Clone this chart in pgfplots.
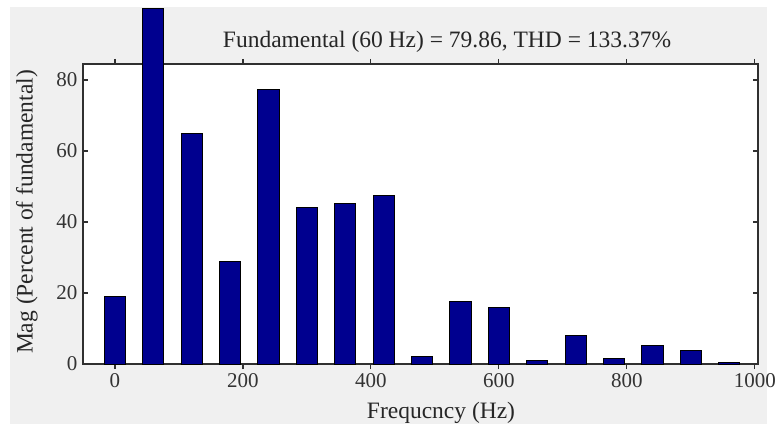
\documentclass[border=0pt]{standalone}
\usepackage{pgfplots}
\pgfplotsset{compat=1.18}
\usepackage{fontspec}
\setmainfont{Liberation Serif}
\definecolor{bg}{HTML}{F0F0F0}
\definecolor{barblue}{rgb}{0,0,0.5625}
\definecolor{axcol}{HTML}{303030}
\begin{document}
\begin{tikzpicture}
\fill[white] (0pt,0pt) rectangle (775pt,426pt);
\fill[bg] (10pt,2pt) rectangle (767pt,419pt);
\useasboundingbox (0pt,0pt) rectangle (775pt,426pt);
\begin{axis}[
  at={(83pt,62pt)}, anchor=south west,
  scale only axis, width=675pt, height=300pt,
  xmin=-50, xmax=1005, ymin=0, ymax=84.5,
  xtick={0,200,400,600,800,1000},
  ytick={0,20,40,60,80},
  tick align=inside, major tick length=5pt,
  axis line style={draw=axcol, line width=1.1pt},
  every tick/.style={draw=axcol, line width=1.1pt},
  axis background/.style={fill=white},
  ybar, bar width=33, clip=false,
  tick label style={font=\fontsize{21}{25}\selectfont, text=black!80},
  xticklabel style={yshift=-1pt},
  yticklabel style={xshift=-2pt},
  /pgf/number format/assume math mode=true,
  /pgf/number format/1000 sep={},
]
\addplot[fill=barblue, draw=black, line width=1pt] coordinates {
  (0,19.0) (60,100) (120,64.8) (180,29.0) (240,77.2) (300,44.1)
  (360,45.3) (420,47.6) (480,2.0) (540,17.7) (600,16.0) (660,1.0)
  (720,8.0) (780,1.5) (840,5.2) (900,3.9) (960,0.4)
};
\end{axis}
\node[font=\fontsize{23.5}{28}\selectfont, text=black!85] at (447pt,384pt) {Fundamental (60 Hz) = 79.86, THD = 133.37\%};
\node[font=\fontsize{23.5}{28}\selectfont, text=black!85] at (441pt,13pt) {Frequcncy (Hz)};
\node[font=\fontsize{23.5}{28}\selectfont, text=black!85, rotate=90] at (27pt,214pt) {Mag (Percent of fundamental)};
\end{tikzpicture}
\end{document}
